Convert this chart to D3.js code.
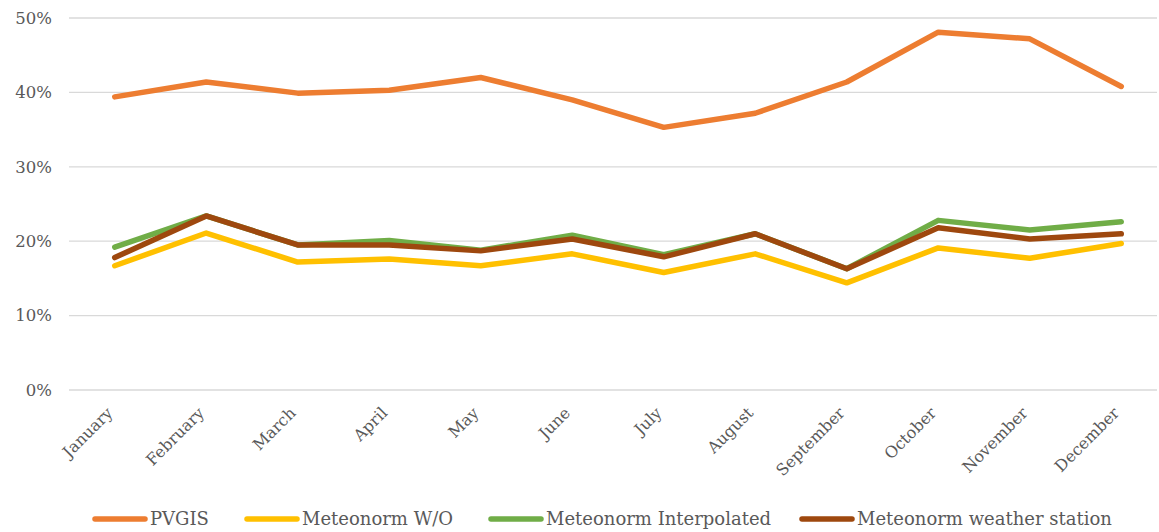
<!DOCTYPE html>
<html>
<head>
<meta charset="utf-8">
<script src="https://cdn.jsdelivr.net/npm/d3@7"></script>
<style>
  html, body { margin: 0; padding: 0; background: #fff; }
  svg { display: block; }
  text { font-family: "DejaVu Serif", serif; fill: #595959; }
</style>
</head>
<body>
<svg id="chart" width="1159" height="532"></svg>
<script>
const months = ["January","February","March","April","May","June","July","August","September","October","November","December"];
const yTicks = [0, 0.1, 0.2, 0.3, 0.4, 0.5];
const pvgis        = [0.394, 0.414, 0.399, 0.403, 0.420, 0.390, 0.353, 0.372, 0.414, 0.481, 0.472, 0.408];
const meteonormWO  = [0.167, 0.211, 0.172, 0.176, 0.167, 0.183, 0.158, 0.183, 0.144, 0.191, 0.177, 0.197];
const meteonormInt = [0.192, 0.234, 0.195, 0.201, 0.188, 0.208, 0.182, 0.210, 0.163, 0.228, 0.215, 0.226];
const meteonormWS  = [0.178, 0.234, 0.195, 0.195, 0.187, 0.203, 0.179, 0.210, 0.163, 0.218, 0.203, 0.210];
const seriesNames  = ["PVGIS", "Meteonorm W/O", "Meteonorm Interpolated", "Meteonorm weather station"];
const seriesColors = ["#ED7D31", "#FFC000", "#70AD47", "#9E480E"];
const seriesValues = [pvgis, meteonormWO, meteonormInt, meteonormWS];

const svg = d3.select("#chart");
const plotLeft = 69, plotRight = 1157, plotTop = 18, plotBottom = 390;

const x = d3.scalePoint().domain(months).range([plotLeft, 1167]).padding(0.5);
const y = d3.scaleLinear().domain([0, 0.5]).range([plotBottom, plotTop]);

// gridlines
svg.append("g").selectAll("line").data(yTicks).join("line")
  .attr("x1", plotLeft).attr("x2", plotRight)
  .attr("y1", d => y(d)).attr("y2", d => y(d))
  .attr("stroke", "#d9d9d9").attr("stroke-width", 1.3);

// y labels
svg.append("g").selectAll("text").data(yTicks).join("text")
  .attr("x", 52).attr("y", d => y(d))
  .attr("dy", "0.35em")
  .attr("text-anchor", "end")
  .attr("font-size", 16.5)
  .text(d => d3.format(".0%")(d));

// x labels
svg.append("g").selectAll("text").data(months).join("text")
  .attr("transform", d => `translate(${x(d) - 1},${414}) rotate(-45)`)
  .attr("text-anchor", "end")
  .attr("font-size", 16)
  .text(d => d);

// lines
const line = d3.line().x((d, i) => x(months[i])).y(d => y(d));
svg.append("g").selectAll("path").data(seriesValues).join("path")
  .attr("d", d => line(d))
  .attr("fill", "none")
  .attr("stroke", (d, i) => seriesColors[i])
  .attr("stroke-width", 5.5)
  .attr("stroke-linecap", "round")
  .attr("stroke-linejoin", "round");

// legend
const legendX = [95, 247, 491, 802];
const lg = svg.append("g").selectAll("g").data(seriesNames).join("g")
  .attr("transform", (d, i) => `translate(${legendX[i]},519)`);
lg.append("line").attr("x1", 0).attr("x2", 50).attr("y1", 0).attr("y2", 0)
  .attr("stroke", (d, i) => seriesColors[i]).attr("stroke-width", 5.5).attr("stroke-linecap", "round");
lg.append("text").attr("x", 55).attr("y", 0).attr("dy", "0.35em")
  .attr("font-size", 18).text(d => d);
</script>
</body>
</html>
